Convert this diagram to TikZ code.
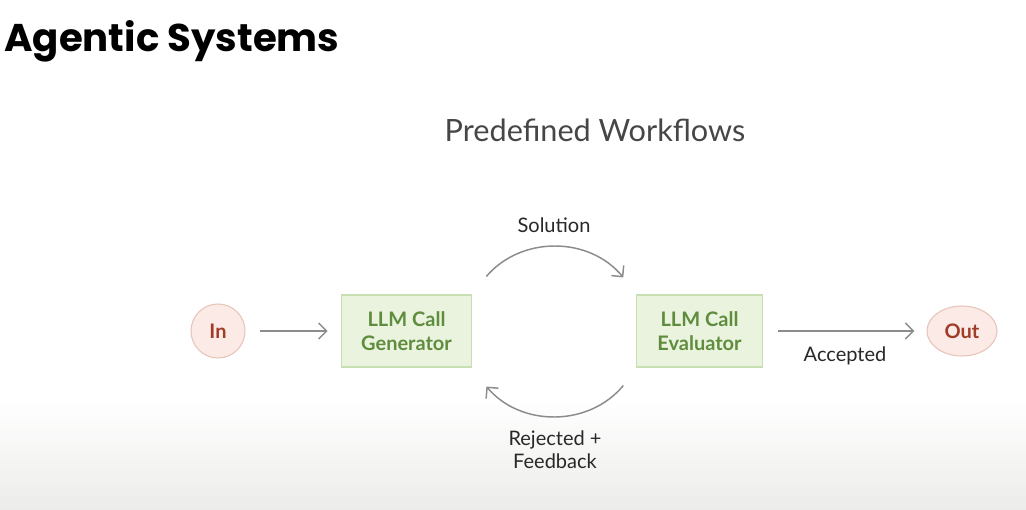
\documentclass[tikz,border=0pt]{standalone}
\usepackage{fontspec}
\setmainfont{Lato}
\newfontfamily\titlefont{Poppins}
\usetikzlibrary{arrows.meta,shapes.geometric}
\definecolor{arrowgray}{RGB}{140,140,140}
\definecolor{boxfill}{RGB}{233,243,222}
\definecolor{boxline}{RGB}{200,223,180}
\definecolor{boxtext}{RGB}{96,140,62}
\definecolor{termfill}{RGB}{251,234,229}
\definecolor{termline}{RGB}{232,196,186}
\definecolor{termtext}{RGB}{160,60,40}
\definecolor{labeltext}{RGB}{40,40,40}
\definecolor{subtitle}{RGB}{70,70,70}
\definecolor{bgbottom}{RGB}{236,236,234}
\tikzset{
  llmbox/.style={draw=boxline, fill=boxfill, line width=0.8pt, minimum width=98pt, minimum height=54pt,
    align=center, text=boxtext, font=\fontsize{15}{17.5}\selectfont\bfseries},
  term/.style={draw=termline, fill=termfill, line width=0.8pt, ellipse, inner sep=0pt,
    text=termtext, font=\fontsize{15}{16}\selectfont\bfseries},
  conn/.style={draw=arrowgray, line width=1.1pt, -{Straight Barb[length=6pt,width=12pt,line width=1.1pt]}},
  lbl/.style={text=labeltext, font=\fontsize{15}{17.3}\selectfont, align=center},
}
\begin{document}
\begin{tikzpicture}[x=0.75pt,y=-0.75pt]
\useasboundingbox (0,0) rectangle (1026,510);
\fill[white] (0,0) rectangle (1026,510);
\shade[top color=white, bottom color=bgbottom] (0,400) rectangle (1026,510);
\node[anchor=base west, inner sep=0pt, font=\titlefont\fontsize{29}{36}\selectfont\bfseries] (title) at (4,52) {Agentic Systems};
\node[inner sep=0pt, text=subtitle, font=\fontsize{23}{28}\selectfont] (sub) at (595,130) {Predefined Workflows};
\node[term, minimum width=40.5pt, minimum height=40.5pt] (in) at (218,331) {In};
\node[llmbox] (gen) at (406.5,331) {LLM Call\\Generator};
\node[llmbox, minimum width=94pt] (eval) at (699.5,331) {LLM Call\\Evaluator};
\node[term, minimum width=52.5pt, minimum height=37.5pt] (out) at (962,331) {Out};
\path (in.east) ++(14,0) coordinate (a1) (gen.west) ++(-13,0) coordinate (a2);
\draw[conn] (a1) -- (a2);
\path (eval.east) ++(15,0) coordinate (b1) (out.west) ++(-12,0) coordinate (b2);
\draw[conn] (b1) -- (b2);
\node[lbl] (acc) at (845,356) {Accepted};
\path (gen.north east) ++(14,-18) coordinate (s1) (eval.north west) ++(-13,-17) coordinate (s2);
\draw[conn] (s1) to[bend left=50] (s2);
\node[lbl] (sol) at (554,225) {Solution};
\path (eval.south west) ++(-13,18) coordinate (r1) (gen.south east) ++(14,19) coordinate (r2);
\draw[conn] (r1) to[bend left=50] (r2);
\node[lbl] (rej) at (555,449.5) {Rejected +\\Feedback};
\end{tikzpicture}
\end{document}
